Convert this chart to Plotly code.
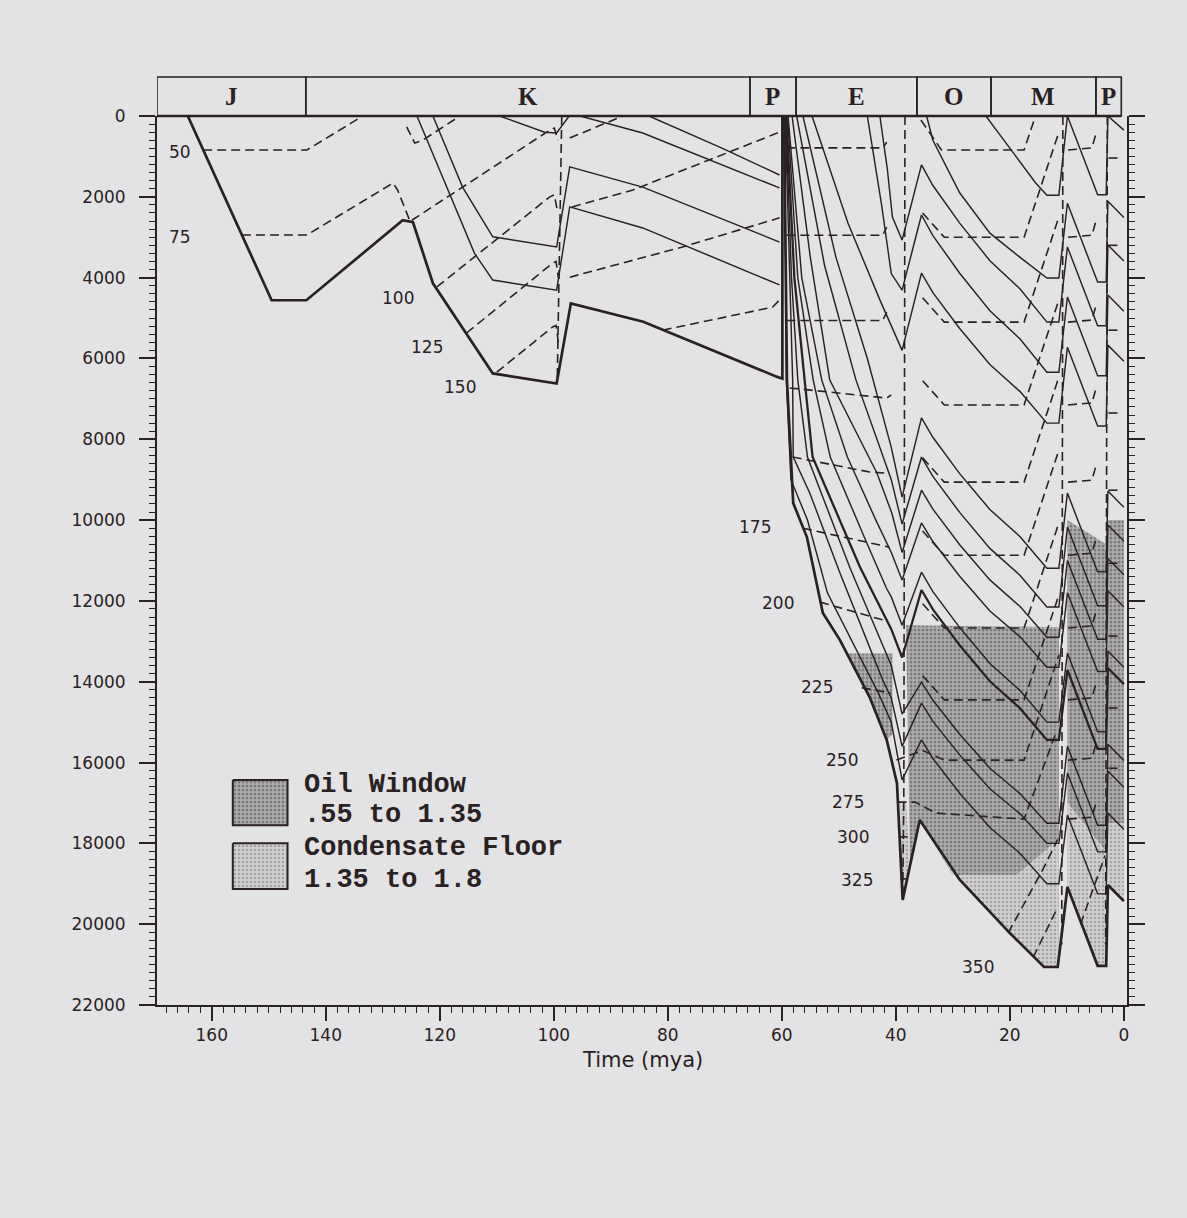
import plotly.graph_objects as go

# ---------------- DATA ----------------
# Geologic periods across the header (age bounds in Ma)
period_names = ["J", "K", "P", "E", "O", "M", "P"]
period_bounds = [169.6, 143.5, 65.6, 57.5, 36.3, 23.3, 4.9, 0.45]

# Axis ticks
depth_ticks = [0, 2000, 4000, 6000, 8000, 10000, 12000, 14000, 16000, 18000, 20000, 22000]
time_ticks = [160, 140, 120, 100, 80, 60, 40, 20, 0]

# Jurassic-Cretaceous block: base burial curve (heavy)
jk_base_age = [164.2, 149.5, 143.4, 126.5, 124.7, 121.2, 110.7, 99.5, 97.0, 84.3, 60.9, 59.9, 59.9]
jk_base_depth = [0, 4560, 4560, 2580, 2630, 4140, 6370, 6620, 4636, 5090, 6450, 6500, 0]

# Cretaceous burial curves (thin)
k_curves = [
    ([109.5, 101.6, 99.5, 97.3], [0, 400, 420, 0]),
    ([95.4, 84.4, 60.4], [0, 420, 1780]),
    ([83.3, 70.4, 60.4], [0, 800, 1460]),
    ([121.2, 116.0, 110.7, 99.5, 97.2, 84.4, 60.4], [0, 1760, 2990, 3240, 1260, 1760, 3120]),
    ([124.0, 113.9, 110.7, 99.5, 97.2, 84.4, 60.4], [0, 3400, 4060, 4310, 2250, 2770, 4180]),
]

# Cretaceous isotherms (dashed)
k_isotherms = [
    ([161.5, 143.3, 133.5], [840, 840, 0]),
    ([154.7, 143.3, 128.2, 127.4, 125.3], [2945, 2945, 1660, 1830, 2575]),
    ([125.8, 124.4, 123.0, 117.0], [270, 670, 600, 50]),
    ([124.9, 100.7, 99.9, 99.3], [2580, 350, 300, 600]),
    ([120.5, 100.7, 99.9, 99.3], [4230, 2000, 1950, 2400]),
    ([115.3, 100.2, 99.6, 99.2], [5370, 3640, 3600, 4000]),
    ([110.0, 100.2, 99.6, 99.2], [6340, 5220, 5180, 5600]),
    ([98.6, 99.4], [0, 6600]),
    ([97.2, 87.9], [545, 0]),
    ([96.8, 86.1, 60.4], [2250, 1830, 400]),
    ([97.2, 77.4, 60.4], [3990, 3240, 2520]),
    ([80.9, 61.6, 60.4], [5300, 4730, 4550]),
]

# Tertiary block: burial curves from deposition through the 39 Ma trough to the 35.5 Ma crest
fan_curves = [
    ([42.8, 41.5, 40.6, 38.9, 35.5], [0, 1300, 2500, 3070, 1210]),
    ([45.0, 42.5, 40.8, 38.9, 35.5], [0, 2200, 3900, 4310, 2450]),
    ([54.7, 48.4, 42.8, 40.7, 38.9, 35.5], [0, 2650, 4550, 5220, 5800, 3890]),
    ([56.3, 50.5, 45.0, 42.0, 40.8, 38.9, 35.5], [0, 3500, 6000, 7600, 8200, 9430, 7470]),
    ([57.4, 52.5, 47.0, 42.5, 40.8, 38.9, 35.5], [0, 3700, 6530, 8300, 9000, 10100, 8440]),
    ([58.2, 55.0, 51.6, 43.3, 40.7, 38.9, 35.5], [0, 3500, 6530, 8840, 9830, 10800, 9260]),
    ([58.9, 56.5, 53.0, 48.5, 43.5, 40.8, 38.9, 35.5], [0, 4000, 6530, 8440, 10000, 10800, 11480, 10070]),
    ([59.0, 57.2, 54.5, 51.5, 45.0, 41.6, 40.8, 38.9, 35.5], [0, 4000, 6530, 8440, 10600, 11700, 11900, 12600, 11290]),
    ([59.2, 57.8, 56.0, 54.6, 46.3, 41.6, 40.8, 38.9, 35.5], [0, 4000, 6530, 8440, 11160, 12470, 12700, 13400, 11730]),
    ([59.3, 58.3, 57.2, 55.5, 48.0, 43.0, 40.8, 38.9, 35.5], [0, 4000, 6530, 8440, 11200, 12900, 13600, 14800, 14010]),
    ([59.4, 58.6, 58.1, 58.0, 55.1, 49.8, 44.6, 42.3, 40.8, 38.9, 35.5], [0, 4000, 6530, 8440, 9330, 11310, 13140, 13960, 14400, 15600, 14530]),
    ([59.5, 59.2, 58.4, 55.5, 52.0, 47.0, 43.0, 40.8, 38.9, 35.5], [0, 6530, 9000, 10000, 11800, 13200, 14300, 15000, 16430, 15440]),
]
base_fan_age = [59.6, 59.1, 58.0, 55.6, 52.8, 49.8, 44.6, 41.6, 39.8, 38.8, 35.8]
base_fan_depth = [0, 6530, 9580, 10420, 12300, 12970, 14380, 15440, 16510, 19400, 17420]

# 35.5 -> 11.4 Ma burial (shared ages)
mid_ages = [35.5, 33.5, 28.8, 23.5, 18.2, 13.5, 11.4]
mid_depths = [
    [1210, 1720, 2650, 3580, 4280, 5100, 5100],
    [2450, 2960, 3890, 4820, 5520, 6340, 6340],
    [3890, 4370, 5260, 6150, 6820, 7600, 7600],
    [7470, 7950, 8850, 9740, 10410, 11190, 11190],
    [8440, 8920, 9810, 10700, 11370, 12150, 12150],
    [9260, 9730, 10610, 11480, 12140, 12900, 12900],
    [10070, 10530, 11390, 12250, 12890, 13640, 13640],
    [11290, 11770, 12660, 13550, 14220, 15000, 15000],
    [11730, 12210, 13100, 13990, 14660, 15440, 15440],
    [14010, 14460, 15300, 16140, 16770, 17500, 17500],
    [14530, 14980, 15810, 16650, 17270, 18000, 18000],
    [15440, 15900, 16760, 17610, 18250, 19000, 19000],
]
base_mid_age = [35.8, 28.8, 20.0, 14.0, 11.6]
base_mid_depth = [17420, 18900, 20220, 21060, 21060]
unit_a_age = [34.6, 33.5, 28.8, 23.5, 18.2, 13.5, 11.4]
unit_a_depth = [0, 600, 1900, 2900, 3500, 4010, 4010]
unit_b_age = [24.2, 21.0, 18.2, 15.5, 13.5, 11.4]
unit_b_depth = [0, 600, 1150, 1650, 1960, 1960]

# 9.9 -> 0 Ma (order: B, A, 1..12, base)
late_ages = [9.9, 4.6, 3.1, 2.8, 0.0]
late_depths = [
    [0, 1950, 1950, 0, 350],
    [2160, 4110, 4110, 2110, 2510],
    [3240, 5190, 5190, 3190, 3590],
    [4480, 6430, 6430, 4430, 4830],
    [5720, 7670, 7670, 5670, 6070],
    [9330, 11280, 11280, 9280, 9680],
    [10170, 12120, 12120, 10120, 10520],
    [11000, 12950, 12950, 10950, 11350],
    [11800, 13750, 13750, 11750, 12150],
    [13290, 15240, 15240, 13240, 13640],
    [13710, 15660, 15660, 13660, 14060],
    [15600, 17550, 17550, 15550, 15950],
    [16260, 18210, 18210, 16210, 16610],
    [17300, 19250, 19250, 17250, 17650],
    [19080, 21030, 21030, 19030, 19430],
]

# Tertiary isotherms (dashed)
fan_isotherms = [
    ([59.2, 42.3, 41.6], [790, 790, 650]),
    ([59.2, 42.3, 41.6], [2950, 2950, 2750]),
    ([59.2, 42.3, 41.6], [5060, 5060, 4850]),
    ([58.6, 41.6, 40.8], [6730, 6980, 6900]),
    ([58.1, 44.6, 41.6], [8440, 8810, 8840]),
    ([56.3, 41.1], [10200, 10670]),
    ([53.3, 42.3], [12030, 12470]),
    ([46.0, 40.9], [14150, 14280]),
]
mid_isotherms = [
    ([35.6, 32.0, 17.5, 15.5], [100, 840, 840, 0]),
    ([35.3, 31.5, 17.5, 11.4], [2400, 3000, 3000, 400]),
    ([35.3, 31.5, 17.5, 11.4], [4500, 5100, 5100, 2500]),
    ([35.3, 31.5, 17.5, 11.4], [6550, 7150, 7150, 4550]),
    ([35.3, 31.5, 17.5, 11.4], [8460, 9060, 9060, 6460]),
    ([35.3, 31.5, 17.5, 11.4], [10270, 10870, 10870, 8270]),
    ([35.3, 31.5, 17.5, 11.4], [12070, 12670, 12670, 10070]),
    ([35.3, 31.5, 17.5, 11.4], [13850, 14450, 14450, 11850]),
    ([39.9, 35.3, 31.5, 17.5, 11.4], [15940, 15700, 15940, 15940, 13340]),
    ([39.7, 36.6, 33.0, 17.5, 12.0], [16980, 16980, 17250, 17400, 15300]),
    ([39.5, 37.2], [17840, 17840]),
    ([39.2, 38.0], [18880, 18880]),
    ([20.3, 14.0, 11.6], [20220, 18590, 17900]),
    ([15.9, 11.6], [20820, 19580]),
]
late_isotherms = [
    ([9.8, 5.6, 4.8], [840, 790, 390]),
    ([9.8, 5.6, 4.8], [3000, 2950, 2550]),
    ([9.8, 5.6, 4.8], [5100, 5050, 4650]),
    ([9.8, 5.6, 4.8], [7150, 7100, 6700]),
    ([9.8, 5.6, 4.8], [9060, 9010, 8610]),
    ([9.8, 5.6, 4.8], [10870, 10820, 10420]),
    ([9.8, 5.6, 4.8], [12670, 12620, 12220]),
    ([9.8, 5.6, 4.8], [14450, 14400, 14000]),
    ([9.8, 5.6, 4.8], [15940, 15890, 15490]),
    ([9.8, 5.6, 4.8], [17400, 17350, 16950]),
    ([7.6, 3.3], [20000, 18300]),
    ([2.7, 0.3], [1040, 1040]),
    ([2.7, 0.3], [3200, 3200]),
    ([2.7, 0.3], [5300, 5300]),
    ([2.7, 0.3], [7350, 7350]),
    ([2.7, 0.3], [9260, 9260]),
    ([2.7, 0.3], [11070, 11070]),
    ([2.7, 0.3], [12870, 12870]),
    ([2.7, 0.3], [14650, 14650]),
    ([2.7, 0.3], [16140, 16140]),
]
fault_isotherms = [
    ([38.4, 38.6, 38.8], [0, 17000, 19300]),
    ([10.7, 10.9], [0, 20500]),
    ([2.9, 3.2], [0, 20500]),
]

# Maturity zones
oil_window_zones = [
    ([48.5, 40.6, 40.6, 41.6, 44.6, 48.5], [13300, 13300, 15300, 15440, 14380, 13300]),
    ([38.2, 11.4, 11.4, 18.8, 30.0, 35.8, 37.5, 38.2], [12600, 12650, 17900, 18780, 18780, 17420, 18540, 12600]),
    ([9.9, 3.1, 3.1, 9.9, 9.9], [10000, 10600, 18200, 17000, 10000]),
    ([2.8, 0.0, 0.0, 2.8, 2.8], [10000, 10000, 17500, 17500, 10000]),
]
condensate_zones = [
    ([35.8, 30.0, 18.8, 11.4, 11.4, 14.0, 20.0, 28.8, 35.8], [17420, 18780, 18780, 17900, 21060, 21060, 20220, 18900, 17420]),
    ([39.3, 38.2, 37.5, 38.8, 39.3], [17000, 17000, 18540, 19400, 17000]),
    ([9.9, 3.1, 3.1, 4.6, 9.9, 9.9], [17000, 18200, 21030, 21030, 19080, 17000]),
    ([2.8, 0.0, 0.0, 2.8, 2.8], [17500, 17500, 19430, 19030, 17500]),
]

# Isotherm temperature labels
iso_label_text = ["50", "75", "100", "125", "150", "175", "200", "225", "250", "275", "300", "325", "350"]
iso_label_age = [165.6, 165.6, 127.4, 122.2, 116.4, 64.7, 60.7, 53.8, 49.4, 48.4, 47.5, 46.8, 25.6]
iso_label_depth = [890, 2990, 4500, 5720, 6710, 10170, 12050, 14130, 15940, 16980, 17840, 18910, 21060]

legend_lines = [["Oil Window", ".55 to 1.35"], ["Condensate Floor", "1.35 to 1.8"]]

# ---------------- STYLE ----------------
BG = "#e3e3e5"
INK = "#2a2123"
THIN = 1.45
HEAVY = 2.7
DASH = "9px,5px"
OIL_PAT = dict(shape=".", bgcolor="#b0b0b2", fgcolor="#4a4446", size=4, solidity=0.45)
CON_PAT = dict(shape=".", bgcolor="#d0d0d2", fgcolor="#7a7476", size=4, solidity=0.3)
SANS = "DejaVu Sans"

fig = go.Figure()


def add_line(ages, depths, width=THIN, dash="solid"):
    fig.add_trace(go.Scatter(x=ages, y=depths, mode="lines",
                             line=dict(color=INK, width=width, dash=dash),
                             hoverinfo="skip", showlegend=False))


def add_zone(ages, depths, pat):
    fig.add_trace(go.Scatter(x=ages, y=depths, mode="lines", fill="toself",
                             fillcolor=pat["bgcolor"], fillpattern=pat,
                             line=dict(width=0, color=pat["bgcolor"]),
                             hoverinfo="skip", showlegend=False))


# zones first (beneath lines)
for a, d in oil_window_zones:
    add_zone(a, d, OIL_PAT)
for a, d in condensate_zones:
    add_zone(a, d, CON_PAT)

# isotherms
for group in (k_isotherms, fan_isotherms, mid_isotherms, late_isotherms, fault_isotherms):
    for a, d in group:
        add_line(a, d, width=1.6, dash=DASH)

# burial curves
add_line(jk_base_age, jk_base_depth, width=HEAVY)
for a, d in k_curves:
    add_line(a, d)

for i, (a, d) in enumerate(fan_curves):
    ages = a + mid_ages + late_ages
    depths = d + mid_depths[i] + late_depths[i + 2]
    add_line(ages, depths, width=(2.3 if i == 8 else THIN))

add_line(unit_a_age + late_ages, unit_a_depth + late_depths[1])
add_line(unit_b_age + late_ages, unit_b_depth + late_depths[0])
add_line(base_fan_age + base_mid_age + late_ages,
         base_fan_depth + base_mid_depth + late_depths[14], width=HEAVY)

# legend swatches (layout positions in axis units)
LEG_X0, LEG_X1 = 156.3, 146.7
LEG_BOXES = [(16430, 17550), (18000, 19130)]
for (y0, y1), pat in zip(LEG_BOXES, (OIL_PAT, CON_PAT)):
    fig.add_trace(go.Scatter(x=[LEG_X0, LEG_X1, LEG_X1, LEG_X0, LEG_X0],
                             y=[y0, y0, y1, y1, y0], mode="lines", fill="toself",
                             fillcolor=pat["bgcolor"], fillpattern=pat,
                             line=dict(color=INK, width=2), hoverinfo="skip", showlegend=False))

annotations = []
LEG_TEXT_X = 144.2
LEG_TEXT_Y = [[16560, 17300], [18120, 18910]]
for lines, ys in zip(legend_lines, LEG_TEXT_Y):
    for t, y in zip(lines, ys):
        annotations.append(dict(x=LEG_TEXT_X, y=y, xref="x", yref="y", text="<b>" + t + "</b>",
                                showarrow=False, xanchor="left", yanchor="middle",
                                font=dict(family="Liberation Mono", size=27, color=INK)))

for t, a, d in zip(iso_label_text, iso_label_age, iso_label_depth):
    annotations.append(dict(x=a, y=d, xref="x", yref="y", text=t, showarrow=False,
                            xanchor="center", yanchor="middle",
                            font=dict(family=SANS, size=17, color=INK)))

# header (geologic periods)
HEAD_TOP = 1.0439
shapes = []
for i, name in enumerate(period_names):
    x0, x1 = period_bounds[i], period_bounds[i + 1]
    shapes.append(dict(type="rect", xref="x", yref="paper", x0=x0, x1=x1, y0=1.0, y1=HEAD_TOP,
                       line=dict(color=INK, width=1.6), fillcolor="rgba(0,0,0,0)"))
    annotations.append(dict(x=(x0 + x1) / 2, y=(1.0 + HEAD_TOP) / 2, xref="x", yref="paper",
                            text="<b>" + name + "</b>", showarrow=False,
                            xanchor="center", yanchor="middle",
                            font=dict(family="Liberation Serif", size=25, color=INK)))
shapes.append(dict(type="line", xref="x", yref="paper", x0=period_bounds[0], x1=period_bounds[-1],
                   y0=1.0, y1=1.0, line=dict(color=INK, width=2.6)))

annotations.append(dict(x=0.5, y=-0.062, xref="paper", yref="paper", text="Time (mya)",
                        showarrow=False, xanchor="center", yanchor="middle",
                        font=dict(family=SANS, size=21, color=INK)))

fig.update_layout(
    width=1187, height=1218,
    paper_bgcolor=BG, plot_bgcolor=BG,
    margin=dict(l=157, r=60, t=116, b=213),
    showlegend=False,
    shapes=shapes, annotations=annotations,
    xaxis=dict(range=[169.6, -0.55], tickvals=time_ticks, ticktext=[str(v) for v in time_ticks],
               showgrid=False, zeroline=False, showline=True, linecolor=INK, linewidth=2,
               ticks="outside", ticklen=14, tickwidth=1.6, tickcolor=INK,
               tickfont=dict(family=SANS, size=17, color=INK),
               minor=dict(dtick=2, ticks="outside", ticklen=6, tickwidth=1, tickcolor=INK),
               mirror=False),
    yaxis=dict(range=[22000, 0], tickvals=depth_ticks, ticktext=[str(v) for v in depth_ticks],
               showgrid=False, zeroline=False, showline=True, linecolor=INK, linewidth=2,
               ticks="outside", ticklen=16, tickwidth=1.6, tickcolor=INK,
               ticklabelstandoff=10,
               tickfont=dict(family=SANS, size=17, color=INK),
               minor=dict(dtick=200, ticks="outside", ticklen=6, tickwidth=1, tickcolor=INK),
               mirror="ticks"),
)

fig.write_html(
    "out.html",
    config={"displayModeBar": False},
    post_script="document.body.style.margin='0';document.body.style.background='#e3e3e5';"
                "document.documentElement.style.overflow='hidden';",
)
